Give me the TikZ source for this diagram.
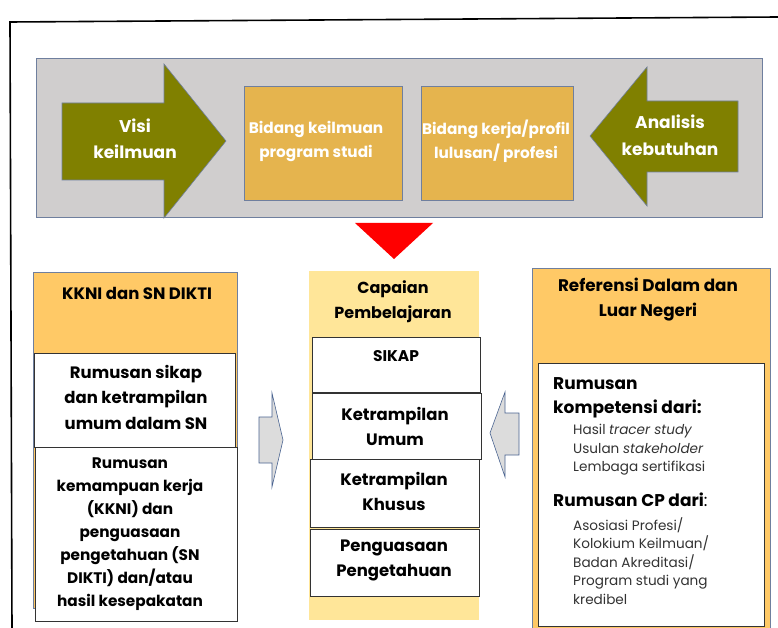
\documentclass[tikz,border=0pt]{standalone}
\usepackage{fontspec}
\setmainfont{Poppins}
\definecolor{panelgray}{HTML}{D0CECE}
\definecolor{panelline}{HTML}{6F7F9E}
\definecolor{olivefill}{HTML}{808000}
\definecolor{goldbox}{HTML}{E5B44E}
\definecolor{orangehd}{HTML}{FFC966}
\definecolor{yellowcol}{HTML}{FFE699}
\definecolor{arrowgray}{HTML}{DCDCDC}
\definecolor{arrowline}{HTML}{4A6491}
\definecolor{boxline}{HTML}{333333}
\definecolor{lighttext}{HTML}{333333}
\tikzset{
  rectbox/.style={anchor=north west, inner sep=0pt, outer sep=0pt},
  olivearrow/.style={fill=olivefill, draw=panelline, line width=0.6pt},
  grayarrow/.style={fill=arrowgray, draw=arrowline, line width=0.6pt},
  whitebox/.style={fill=white, draw=boxline, line width=0.9pt},
  lbl/.style={align=center, inner sep=0pt, font=\bfseries},
}
\begin{document}
\begin{tikzpicture}[x=1pt,y=-1pt]
\useasboundingbox (0,0) rectangle (778,628);
\clip (0,0) rectangle (778,628);
% outer frame (top and left)
\coordinate (fbl) at (12,630);
\coordinate (ftl) at (10,22);
\coordinate (ftr) at (778,17);
\draw[line width=1.6pt] (fbl) -- (ftl) -- (ftr);

% top panel
\node[rectbox, fill=panelgray, draw=panelline, line width=0.7pt, minimum width=726pt, minimum height=159pt] (panel) at (36,58) {};

% left olive arrow
\draw[olivearrow] (62,103) -- (164,103) -- (164,64) -- (226,141) -- (164,218) -- (164,180) -- (62,180) -- cycle;
\node[lbl, text=white, font=\bfseries\fontsize{17}{26}\selectfont] (visi) at (135,139) {Visi\\keilmuan};

% gold boxes
\node[rectbox, fill=goldbox, draw=panelline, line width=0.7pt, minimum width=158pt, minimum height=114pt] (bk) at (244,86) {};
\node[lbl, text=white, font=\bfseries\fontsize{15.3}{24}\selectfont] (bktext) at (316,141) {Bidang keilmuan\\program studi};
\node[rectbox, fill=goldbox, draw=panelline, line width=0.7pt, minimum width=152pt, minimum height=114pt] (bp) at (421,86) {};
\node[lbl, text=white, font=\bfseries\fontsize{15.3}{24}\selectfont] (bptext) at (496,141) {Bidang kerja/profil\\lulusan/ profesi};

% right olive arrow
\draw[olivearrow] (738,101) -- (647,101) -- (647,67) -- (590,136) -- (647,206) -- (647,172) -- (738,172) -- cycle;
\node[lbl, text=white, font=\bfseries\fontsize{17}{27}\selectfont] (anal) at (670,135) {Analisis\\kebutuhan};

% red triangle
\fill[red] (355,223) -- (433,223) -- (394,259) -- cycle;

% left column
\node[rectbox, fill=orangehd, draw=panelline, line width=0.7pt, minimum width=204pt, minimum height=336pt] (kkni) at (33,272) {};
\node[lbl, font=\bfseries\fontsize{16.5}{20}\selectfont] (kknitext) at (137,293) {KKNI dan SN DIKTI};
\node[rectbox, whitebox, minimum width=201pt, minimum height=94pt] (lsa) at (34,353) {};
\node[lbl, font=\bfseries\fontsize{16.5}{25.5}\selectfont] (lsatext) at (136,397) {Rumusan sikap\\dan ketrampilan\\umum dalam SN};
\node[rectbox, whitebox, minimum width=202pt, minimum height=174pt] (lsb) at (35,447) {};
\node[lbl, font=\bfseries\fontsize{15.3}{23}\selectfont] (lsbtext) at (130,534) {Rumusan\\kemampuan kerja\\(KKNI) dan\\penguasaan\\pengetahuan (SN\\DIKTI) dan/atau\\hasil kesepakatan};

% left gray arrow
\draw[grayarrow] (259,417) -- (272,417) -- (272,393) -- (283,440) -- (272,487) -- (272,463) -- (259,463) -- cycle;

% center column
\node[rectbox, fill=yellowcol, minimum width=170pt, minimum height=349pt] (cp) at (309,271) {};
\node[lbl, font=\bfseries\fontsize{16}{25}\selectfont] (cptext) at (393,302) {Capaian\\Pembelajaran};
\node[rectbox, whitebox, minimum width=168pt, minimum height=55pt] (sikap) at (312,337) {};
\node[lbl, font=\bfseries\fontsize{15.5}{25}\selectfont] (sikaptext) at (396,356) {SIKAP};
\node[rectbox, whitebox, minimum width=169pt, minimum height=66pt] (ku) at (312,393) {};
\node[lbl, font=\bfseries\fontsize{16.5}{25}\selectfont] (kutext) at (395,426) {Ketrampilan\\Umum};
\node[rectbox, whitebox, minimum width=169pt, minimum height=68pt] (kk) at (310,459) {};
\node[lbl, font=\bfseries\fontsize{16.5}{25}\selectfont] (kktext) at (394,491) {Ketrampilan\\Khusus};
\node[rectbox, whitebox, minimum width=169pt, minimum height=67pt] (pp) at (310,529) {};
\node[lbl, font=\bfseries\fontsize{16.5}{25}\selectfont] (pptext) at (394,560) {Penguasaan\\Pengetahuan};

% right gray arrow
\draw[grayarrow] (519,413) -- (505,413) -- (505,392) -- (490,433) -- (505,477) -- (505,455) -- (519,455) -- cycle;

% right column
\node[rectbox, fill=orangehd, draw=panelline, line width=0.7pt, minimum width=238pt, minimum height=370pt] (ref) at (532,268) {};
\node[lbl, font=\bfseries\fontsize{16.8}{25}\selectfont] (reftext) at (648,300) {Referensi Dalam dan\\Luar Negeri};
\node[rectbox, whitebox, minimum width=226pt, minimum height=263pt] (rb) at (538,363) {};
\node[anchor=west, inner sep=0pt, font=\bfseries\fontsize{17}{25}\selectfont] (rk1) at (553,384) {Rumusan};
\node[anchor=west, inner sep=0pt, font=\bfseries\fontsize{17}{25}\selectfont] (rk2) at (553,409) {kompetensi dari:};
\node[anchor=north west, inner sep=0pt, align=left, text=lighttext, font=\fontsize{13.6}{18.5}\selectfont] (rk3) at (573,424) {Hasil \textit{tracer study}\\Usulan \textit{stakeholder}\\Lembaga sertifikasi};
\node[anchor=west, inner sep=0pt, font=\fontsize{17}{25}\selectfont] (rc1) at (553,500) {\textbf{Rumusan CP dari}:};
\node[anchor=north west, inner sep=0pt, align=left, text=lighttext, font=\fontsize{13.6}{18.5}\selectfont] (rc2) at (573,517) {Asosiasi Profesi/\\Kolokium Keilmuan/\\Badan Akreditasi/\\Program studi yang\\kredibel};
\end{tikzpicture}
\end{document}
